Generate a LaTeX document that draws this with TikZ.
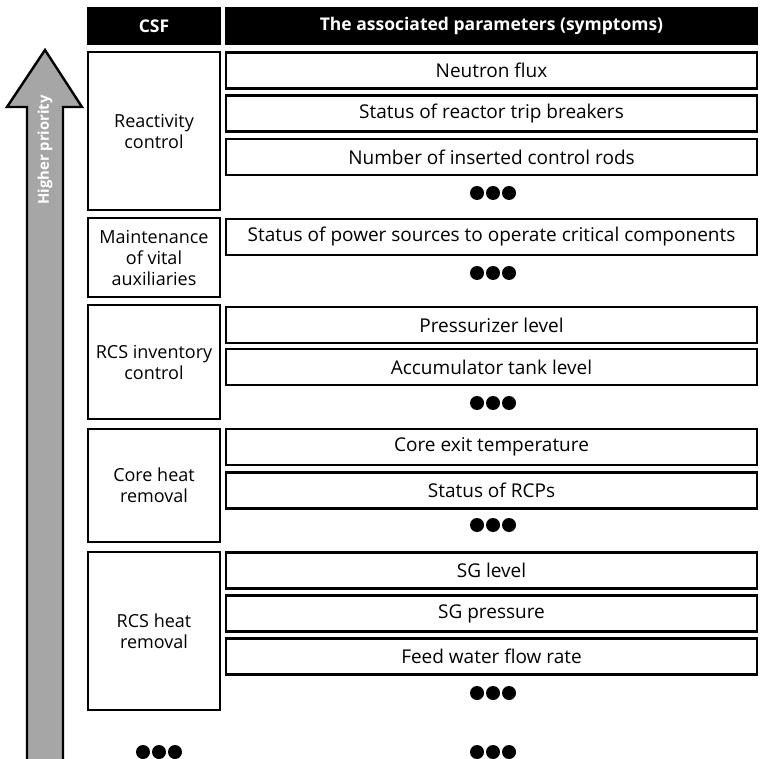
\documentclass[tikz,border=0pt]{standalone}
\usepackage{fontspec}
\setmainfont{Open Sans}
\definecolor{arrowgrey}{HTML}{A6A6A6}
\begin{document}
\begin{tikzpicture}[x=1pt,y=-1pt,
  frame/.style={draw=black, line width=2.4pt, fill=white, inner sep=0pt,
    align=center},
  csfbox/.style={frame, minimum width=131.6pt, font=\fontsize{18}{21}\selectfont},
  parbox/.style={frame, minimum width=530.6pt, minimum height=36pt,
    font=\fontsize{19}{22}\selectfont},
  headbox/.style={fill=black, draw=black, line width=1pt, text=white,
    font=\bfseries\fontsize{17.5}{20}\selectfont, minimum height=37pt, inner sep=0pt},
  dotrow/.style={minimum width=48pt, minimum height=16pt, inner sep=0pt,
    path picture={\foreach \dx in {-16,0,16}
      \fill ([xshift=\dx pt]path picture bounding box.center) circle (7pt);}},
  prioarrow/.style={draw=black, line width=2.4pt, fill=arrowgrey, miter limit=20}
]
\useasboundingbox (0,0) rectangle (760,759);
\clip (0,0) rectangle (760,759);

% priority arrow on the left
\draw[prioarrow] (27,790) -- (27,107) -- (7,107) -- (45,50) -- (82,107)
  -- (63,107) -- (63,790);
\node[rotate=90, text=white, font=\bfseries\fontsize{14.8}{17}\selectfont]
  (hp) at (45,150) {Higher priority};

% column headers
\node[headbox, minimum width=133pt] (hcsf) at (154,26) {CSF};
\node[headbox, minimum width=532pt] (hpar) at (491.5,26)
  {The associated parameters (symptoms)};

% critical safety functions
\node[csfbox, minimum height=157.6pt] (rc) at (154,131) {Reactivity\\control};
\node[csfbox, minimum height=78.6pt] (mva) at (154,257.5)
  {Maintenance\\of vital\\auxiliaries};
\node[csfbox, minimum height=113.6pt] (rcsi) at (154,362) {RCS inventory\\control};
\node[csfbox, minimum height=112.6pt] (chr) at (154,485.5) {Core heat\\removal};
\node[csfbox, minimum height=157.6pt] (rcsh) at (154,631) {RCS heat\\removal};

% associated parameters
\node[parbox] (p1) at (491.5,70.5) {Neutron flux};
\node[parbox] (p2) at (491.5,113.5) {Status of reactor trip breakers};
\node[parbox] (p3) at (491.5,157) {Number of inserted control rods};
\node[dotrow] (d1) at (493,193) {};

\node[parbox] (p4) at (491.5,237)
  {Status of power sources to operate critical components};
\node[dotrow] (d2) at (493,273) {};

\node[parbox] (p5) at (491.5,325) {Pressurizer level};
\node[parbox] (p6) at (491.5,367) {Accumulator tank level};
\node[dotrow] (d3) at (493,403) {};

\node[parbox] (p7) at (491.5,447) {Core exit temperature};
\node[parbox] (p8) at (491.5,490.5) {Status of RCPs};
\node[dotrow] (d4) at (493,525) {};

\node[parbox] (p9) at (491.5,570.5) {SG level};
\node[parbox] (p10) at (491.5,613.5) {SG pressure};
\node[parbox] (p11) at (491.5,656.5) {Feed water flow rate};
\node[dotrow] (d5) at (493,693) {};

% further functions continue below
\node[dotrow] (d6) at (159,752) {};
\node[dotrow] (d7) at (493,752) {};
\end{tikzpicture}
\end{document}
